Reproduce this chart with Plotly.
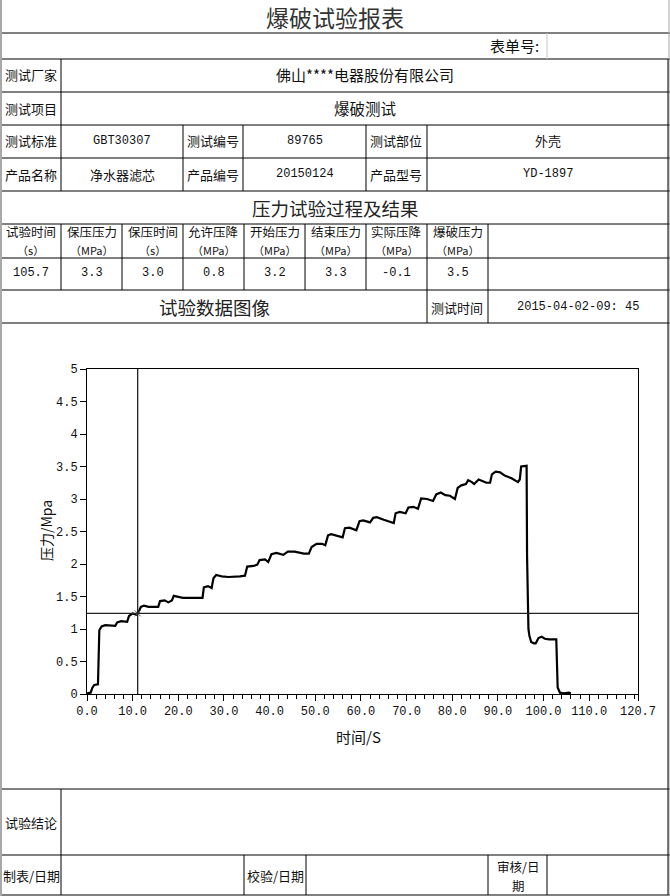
import plotly.graph_objects as go

W, H = 670, 896

# ---------------- chart data ----------------
time_s = [0.0, 0.8, 1.2, 1.6, 2.4, 2.5, 2.7, 3.2, 4.0, 6.2, 6.6, 7.5, 8.8, 9.2, 10.0, 10.8,
          11.3, 11.8, 12.5, 13.5, 15.6, 16.0, 17.0, 17.8, 18.6, 19.0, 20.0, 21.0, 25.3, 25.6,
          26.5, 27.3, 27.7, 28.3, 29.5, 31.0, 33.5, 34.6, 35.1, 36.5, 37.3, 37.8, 39.0, 39.7,
          40.4, 41.5, 43.0, 44.0, 45.5, 47.5, 48.6, 49.2, 50.3, 51.5, 52.2, 52.8, 53.5, 55.0,
          56.0, 56.5, 57.5, 59.0, 59.7, 60.5, 62.0, 62.7, 63.5, 65.0, 66.5, 67.2, 67.6, 68.5,
          69.8, 70.4, 71.5, 72.5, 73.2, 74.5, 75.8, 76.5, 77.5, 78.5, 79.5, 80.6, 81.2, 82.0,
          83.0, 83.5, 84.3, 84.8, 85.8, 86.5, 87.5, 88.3, 88.7, 89.5, 90.5, 91.5, 93.0, 94.4,
          94.8, 95.1, 95.9, 96.3, 96.4, 96.7, 96.9, 97.3, 97.9, 98.3, 98.9, 99.6, 100.3, 101.2,
          102.8, 103.1, 103.6, 104.5, 105.5, 106.0]
pressure_mpa = [0.01, 0.02, 0.10, 0.14, 0.15, 0.60, 0.98, 1.04, 1.06, 1.05, 1.10, 1.12, 1.11,
                1.20, 1.24, 1.22, 1.26, 1.34, 1.36, 1.34, 1.34, 1.43, 1.44, 1.41, 1.44, 1.51,
                1.50, 1.48, 1.48, 1.64, 1.66, 1.63, 1.78, 1.83, 1.81, 1.80, 1.81, 1.82, 1.96,
                1.97, 1.99, 2.06, 2.07, 2.03, 2.15, 2.17, 2.14, 2.19, 2.19, 2.16, 2.16, 2.26,
                2.31, 2.31, 2.29, 2.44, 2.46, 2.43, 2.41, 2.55, 2.56, 2.52, 2.66, 2.67, 2.64,
                2.71, 2.72, 2.68, 2.64, 2.63, 2.78, 2.80, 2.78, 2.87, 2.88, 2.85, 3.01, 3.00,
                2.97, 3.07, 3.10, 3.06, 3.05, 3.00, 3.17, 3.21, 3.23, 3.29, 3.26, 3.23, 3.30,
                3.28, 3.25, 3.25, 3.38, 3.42, 3.41, 3.36, 3.32, 3.26, 3.30, 3.50, 3.51, 3.51,
                2.12, 1.00, 0.90, 0.80, 0.78, 0.78, 0.86, 0.88, 0.85, 0.84, 0.84, 0.10, 0.02,
                0.01, 0.02, 0.01]

x_tick_vals = [0, 10, 20, 30, 40, 50, 60, 70, 80, 90, 100, 110, 120.7]
x_tick_text = ["0.0", "10.0", "20.0", "30.0", "40.0", "50.0", "60.0", "70.0", "80.0",
               "90.0", "100.0", "110.0", "120.7"]
y_tick_vals = [0, 0.5, 1, 1.5, 2, 2.5, 3, 3.5, 4, 4.5, 5]
y_tick_text = ["0", "0.5", "1", "1.5", "2", "2.5", "3", "3.5", "4", "4.5", "5"]

cursor_time = 11.1
cursor_pressure = 1.24

# ---------------- report texts ----------------
report_title = "爆破试验报表"
form_no_label = "表单号:"
factory_label, factory_value = "测试厂家", "佛山****电器股份有限公司"
item_label, item_value = "测试项目", "爆破测试"
row3 = ["测试标准", "GBT30307", "测试编号", "89765", "测试部位", "外壳"]
row4 = ["产品名称", "净水器滤芯", "产品编号", "20150124", "产品型号", "YD-1897"]
section_title = "压力试验过程及结果"
result_headers = [("试验时间", "（s）"), ("保压压力", "（MPa）"), ("保压时间", "（s）"),
                  ("允许压降", "（MPa）"), ("开始压力", "（MPa）"), ("结束压力", "（MPa）"),
                  ("实际压降", "（MPa）"), ("爆破压力", "（MPa）")]
result_values = ["105.7", "3.3", "3.0", "0.8", "3.2", "3.3", "-0.1", "3.5"]
chart_title = "试验数据图像"
test_time_label, test_time_value = "测试时间", "2015-04-02-09: 45"
conclusion_label = "试验结论"
sign_labels = ["制表/日期", "校验/日期"]
sign_label_wrapped = ("审核/日", "期")
x_title, y_title = "时间/S", "压力/Mpa"

CJK = "Noto Sans CJK SC"
MONO = "Liberation Mono"


def X(px):
    return px / W


def Y(py):
    return 1 - py / H


shapes = []
annotations = []


def hline(y, x0, x1, color="#000", width=1):
    shapes.append(dict(type="line", xref="paper", yref="paper", x0=X(x0), x1=X(x1),
                       y0=Y(y), y1=Y(y), line=dict(color=color, width=width)))


def vline(x, y0, y1, color="#000", width=1):
    shapes.append(dict(type="line", xref="paper", yref="paper", x0=X(x), x1=X(x),
                       y0=Y(y0), y1=Y(y1), line=dict(color=color, width=width)))


def text(cx, cy, s, size=13, family=CJK, color="#111", xanchor="center", angle=0):
    annotations.append(dict(xref="paper", yref="paper", x=X(cx), y=Y(cy), text=s,
                            showarrow=False, xanchor=xanchor, yanchor="middle",
                            textangle=angle,
                            font=dict(family=family, size=size, color=color)))


# grid lines
for yy in [33, 59, 92, 125, 158, 191, 224, 258, 290, 323, 789, 855, 895]:
    hline(yy, 0, 670)
vline(1, 0, 896, color="#a8a8a8", width=2)
vline(669, 0, 896, color="#a8a8a8", width=1)
vline(668, 59, 895)
vline(547, 33, 59, color="#c8c8c8")
vline(61, 59, 191)
for xx in [183, 243, 366, 427]:
    vline(xx, 125, 191)
for xx in [61, 122, 183, 244, 305, 366, 427, 488]:
    vline(xx, 224, 290)
for xx in [427, 488]:
    vline(xx, 290, 323)
vline(61, 789, 895)
for xx in [244, 306, 488, 547]:
    vline(xx, 855, 895)

# texts
text(335, 17, report_title, size=23, color="#333")
text(541, 46, form_no_label, size=15, xanchor="right")
text(31, 75, factory_label, size=13)
text(365, 75, factory_value, size=15)
text(31, 108, item_label, size=13)
text(365, 108, item_value, size=15.5)
col_centers = [31, 122, 213, 305, 396, 548]
for row, yy in ((row3, 141), (row4, 174)):
    for i, s in enumerate(row):
        mono = (i % 2 == 1) and s.isascii()
        text(col_centers[i], yy, s, size=12 if mono else 13, family=MONO if mono else CJK)
text(335, 208, section_title, size=18.5, color="#222")
for i, (h1, h2) in enumerate(result_headers):
    cx = 30.5 + 61 * i
    text(cx, 232, h1, size=12.5)
    text(cx, 250.5, h2, size=11)
    text(cx, 273, result_values[i], size=12, family=MONO)
text(214, 307, chart_title, size=18.5, color="#222")
text(457, 307, test_time_label, size=13)
text(578, 307, test_time_value, size=12, family=MONO)
text(31, 822, conclusion_label, size=13)
text(31, 875, sign_labels[0], size=13)
text(275, 875, sign_labels[1], size=13)
text(518, 866, sign_label_wrapped[0], size=12.5)
text(518, 885.5, sign_label_wrapped[1], size=12.5)

# axis titles
text(358, 736, x_title, size=15)
text(46, 531, y_title, size=14, angle=-90)

# cursor lines (data coordinates)
shapes.append(dict(type="line", xref="x", yref="y", x0=cursor_time, x1=cursor_time,
                   y0=0, y1=5, line=dict(color="#222", width=1.3)))
shapes.append(dict(type="line", xref="x", yref="y", x0=0, x1=120.7,
                   y0=cursor_pressure, y1=cursor_pressure, line=dict(color="#222", width=1.3)))

fig = go.Figure()
fig.add_trace(go.Scatter(x=time_s, y=pressure_mpa, mode="lines",
                         line=dict(color="#000", width=2.2), hoverinfo="skip",
                         showlegend=False))
fig.add_trace(go.Scatter(x=[cursor_time], y=[cursor_pressure], mode="markers",
                         marker=dict(symbol="x-thin", size=6, line=dict(color="#666", width=1)),
                         hoverinfo="skip", showlegend=False))

fig.update_layout(
    width=W, height=H, margin=dict(l=0, r=0, t=0, b=0, autoexpand=False),
    paper_bgcolor="white", plot_bgcolor="white",
    shapes=shapes, annotations=annotations, showlegend=False,
    xaxis=dict(domain=[X(87), X(638)], range=[0, 120.7], showgrid=False, zeroline=False,
               automargin=False, showline=True, linecolor="#000", linewidth=1, mirror=True,
               tickmode="array", tickvals=x_tick_vals, ticktext=x_tick_text,
               ticks="outside", ticklen=6, tickcolor="#000",
               minor=dict(dtick=2, tick0=0, ticks="outside", ticklen=4, tickcolor="#000"),
               tickfont=dict(family=MONO, size=12, color="#111")),
    yaxis=dict(domain=[Y(694), Y(369)], range=[0, 5], showgrid=False, zeroline=False,
               automargin=False, showline=True, linecolor="#000", linewidth=1, mirror=True,
               tickmode="array", tickvals=y_tick_vals, ticktext=y_tick_text,
               ticks="outside", ticklen=6, tickcolor="#000",
               tickfont=dict(family=MONO, size=12, color="#111")),
)

fix_page = "document.body.style.margin='0px';document.body.style.padding='0px';"
fig.write_html("out.html", config=dict(displayModeBar=False), post_script=fix_page)
